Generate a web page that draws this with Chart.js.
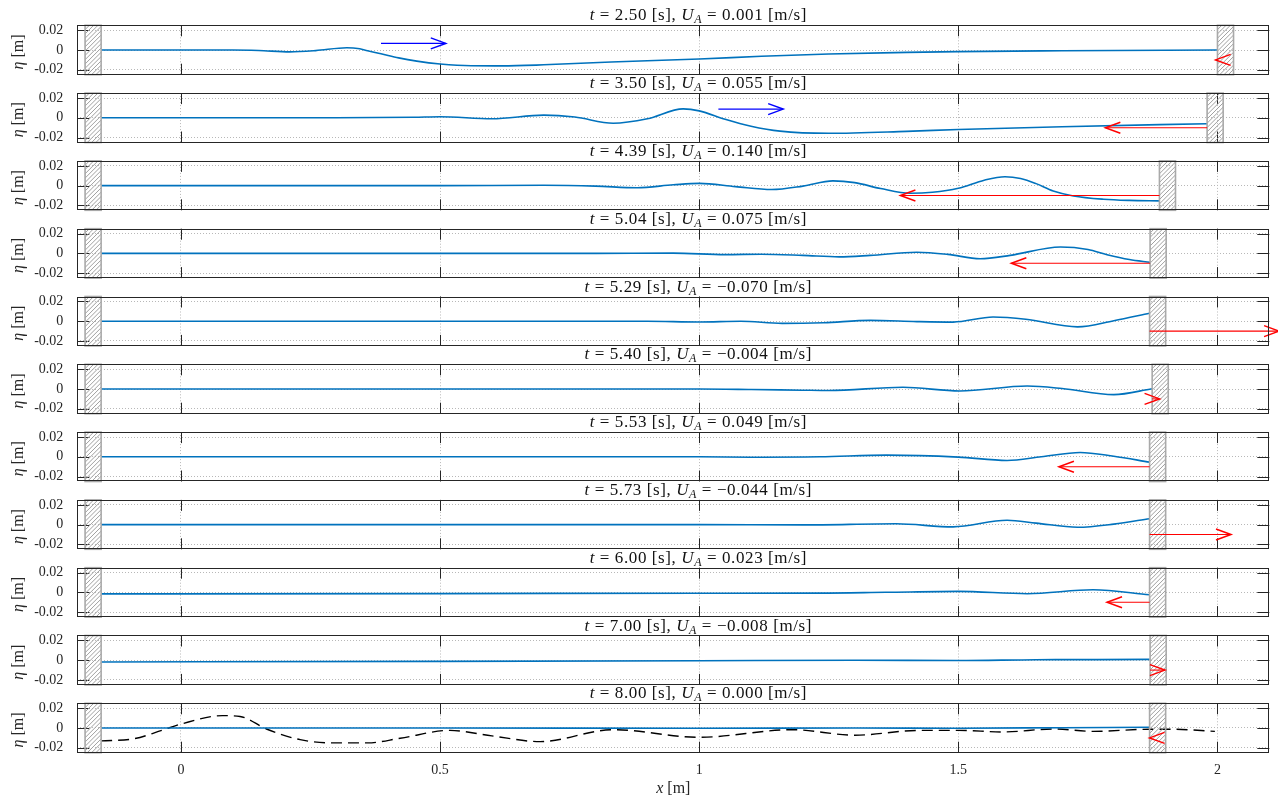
<!DOCTYPE html>
<html>
<head>
<meta charset="utf-8">
<script src="https://cdn.jsdelivr.net/npm/chart.js@4.4.1/dist/chart.umd.min.js"></script>
<style>
  html, body { margin: 0; padding: 0; background: #fff; }
  #fig { position: relative; width: 1278px; height: 799px; overflow: hidden; background: #fff; }
  #fig canvas { position: absolute; left: 0; }
</style>
</head>
<body>
<div id="fig"></div>
<script>
// Snapshot times and paddle velocity of each frame
const TIMES = [2.50, 3.50, 4.39, 5.04, 5.29, 5.40, 5.53, 5.73, 6.00, 7.00, 8.00];
const U_A   = [0.001, 0.055, 0.140, 0.075, -0.070, -0.004, 0.049, -0.044, 0.023, -0.008, 0.000];

// Position of the moving paddle (water-side face) in each frame, and the fixed wall
const WALL_X = [2.000, 1.980, 1.888, 1.870, 1.869, 1.874, 1.869, 1.869, 1.869, 1.870, 1.869];
const FIXED_WALL_X = -0.154;
const WALL_THICKNESS = 0.031;

// Axis ticks
const X_TICKS = [0, 0.5, 1, 1.5, 2];
const Y_TICKS = [-0.02, 0, 0.02];

// Free-surface elevation eta(x) for each snapshot
const X_250   = [-0.154, 0.0, 0.1, 0.15, 0.21, 0.26, 0.32, 0.345, 0.36, 0.386, 0.42, 0.455, 0.5, 0.56, 0.62, 0.7, 0.83, 1.0, 1.12, 1.25, 1.4, 1.5, 1.7, 1.9, 2.0];
const ETA_250 = [0, 0, 0, -0.0005, -0.0019, -0.0006, 0.0023, 0.0012, -0.0008, -0.0038, -0.008, -0.0113, -0.0142, -0.016, -0.0161, -0.015, -0.0121, -0.0091, -0.0064, -0.004, -0.0024, -0.0016, -0.0008, -0.0002, 0];

const X_350   = [-0.154, 0.3, 0.45, 0.5, 0.6, 0.7, 0.76, 0.834, 0.9, 0.969, 1.0, 1.05, 1.1, 1.156, 1.25, 1.4, 1.5, 1.7, 1.98];
const ETA_350 = [0, 0, 0.0005, 0.001, -0.001, 0.0027, 0.0008, -0.0055, -0.001, 0.009, 0.007, -0.0015, -0.0085, -0.0135, -0.0157, -0.0137, -0.0118, -0.009, -0.006];

const X_439   = [-0.154, 0.5, 0.7, 0.8, 0.88, 0.95, 1.0, 1.07, 1.14, 1.2, 1.258, 1.3, 1.35, 1.407, 1.45, 1.5, 1.55, 1.59, 1.62, 1.65, 1.683, 1.722, 1.78, 1.83, 1.888];
const ETA_439 = [0, 0, 0.0003, -0.0005, -0.0022, 0.0008, 0.0023, -0.001, -0.004, -0.0005, 0.0048, 0.003, -0.003, -0.0078, -0.0068, -0.0027, 0.0055, 0.009, 0.0072, 0.002, -0.0055, -0.0105, -0.0138, -0.015, -0.0155];

const X_504   = [-0.154, 0.8, 0.95, 1.05, 1.12, 1.2, 1.27, 1.33, 1.42, 1.48, 1.542, 1.6, 1.697, 1.75, 1.787, 1.83, 1.87];
const ETA_504 = [0, 0, 0.0003, -0.0012, -0.0008, -0.002, -0.0035, -0.002, 0.0012, -0.001, -0.0054, -0.002, 0.0065, 0.004, -0.0013, -0.0062, -0.009];

const X_529   = [-0.154, 0.9, 1.0, 1.08, 1.16, 1.24, 1.33, 1.42, 1.49, 1.567, 1.63, 1.73, 1.8, 1.869];
const ETA_529 = [0, 0, -0.0008, 0, -0.0022, -0.0015, 0.0008, -0.0004, -0.0009, 0.0042, 0.002, -0.0057, 0.0005, 0.008];

const X_540   = [-0.154, 1.0, 1.1, 1.2, 1.25, 1.393, 1.503, 1.633, 1.7, 1.8, 1.874];
const ETA_540 = [0, 0, -0.0005, -0.0012, -0.0015, 0.0017, -0.002, 0.003, 0.0005, -0.0057, 0.0003];

const X_553   = [-0.154, 1.0, 1.1, 1.233, 1.362, 1.5, 1.594, 1.66, 1.735, 1.8, 1.869];
const ETA_553 = [0, 0, -0.0004, 0, 0.0017, -0.0003, -0.0037, 0, 0.0044, 0.0005, -0.0054];

const X_573   = [-0.154, 1.0, 1.2, 1.38, 1.49, 1.594, 1.65, 1.73, 1.8, 1.869];
const ETA_573 = [0, 0, -0.0003, 0.0008, -0.0023, 0.0044, 0.0015, -0.0027, 0.0005, 0.006];

const X_600   = [-0.154, 0.5, 1.0, 1.233, 1.36, 1.5, 1.633, 1.76, 1.869];
const ETA_600 = [-0.0015, -0.0012, -0.0008, -0.0007, 0.0001, 0.001, -0.0013, 0.0027, -0.0024];

const X_700   = [-0.154, 0.5, 1.0, 1.3, 1.5, 1.65, 1.75, 1.869];
const ETA_700 = [-0.0018, -0.0012, -0.0005, 0, -0.0003, 0.0005, 0.0006, 0.0008];

const X_800   = [-0.154, 0.5, 1.0, 1.3, 1.5, 1.7, 1.869];
const ETA_800 = [0, 0, -0.0003, 0, -0.0002, 0.0003, 0.0007];

// Reference surface shown dashed in the last frame
const X_REF   = [-0.154, -0.092, -0.037, 0.0, 0.08, 0.114, 0.165, 0.23, 0.29, 0.36, 0.423, 0.519, 0.6, 0.693, 0.834, 1.0, 1.18, 1.3, 1.426, 1.5, 1.587, 1.683, 1.76, 1.869, 1.915, 1.995];
const ETA_REF = [-0.013, -0.011, -0.0024, 0.004, 0.0125, 0.0117, -0.001, -0.0118, -0.0151, -0.0151, -0.0104, -0.0024, -0.008, -0.0138, -0.0017, -0.0094, -0.0017, -0.0073, -0.0024, -0.0024, -0.004, -0.001, -0.0034, -0.0013, -0.0013, -0.0034];

// Wave-direction arrows (blue) in the first two frames
const DIR_FRAME = [0, 1];
const DIR_X0 = [0.386, 1.037];
const DIR_X1 = [0.511, 1.162];
const DIR_Y  = [0.0067, 0.0088];

const SURF_X   = [X_250, X_350, X_439, X_504, X_529, X_540, X_553, X_573, X_600, X_700, X_800];
const SURF_ETA = [ETA_250, ETA_350, ETA_439, ETA_504, ETA_529, ETA_540, ETA_553, ETA_573, ETA_600, ETA_700, ETA_800];

// Layout and style constants
const VEL_ARROW_Y = -0.01;     // height at which the paddle velocity arrow is drawn
const VEL_ARROW_SCALE = 3.57;  // metres of arrow per m/s
const AX_LEFT = 77.3, AX_RIGHT = 1269.3, AX_TOP0 = 25.3, AX_STEP = 67.8, AX_H = 49.4;
const X_AXIS_H = 40, CANVAS_H = 121;
const FONT = '"Liberation Serif", "Times New Roman", serif';
const INK = '#262626';

function toPoints(xs, ys) { return xs.map((x, k) => ({ x: x, y: ys[k] })); }

function fmtU(u) {
  const s = Math.abs(u).toFixed(3);
  return (u < 0 ? '\u2212' : '') + s;
}

function drawRich(ctx, tokens, cx, y) {
  let total = 0;
  tokens.forEach(tk => { ctx.font = tk.font; tk.w = ctx.measureText(tk.text).width + (tk.gap || 0); total += tk.w; });
  let x = cx - total / 2;
  ctx.textAlign = 'left';
  ctx.textBaseline = 'alphabetic';
  tokens.forEach(tk => { ctx.font = tk.font; ctx.fillText(tk.text, x, y + (tk.dy || 0)); x += tk.w; });
}

function drawWall(ctx, x0, x1, y0, y1) {
  ctx.save();
  ctx.beginPath();
  ctx.rect(x0, y0, x1 - x0, y1 - y0);
  ctx.clip();
  ctx.strokeStyle = '#a0a0a0';
  ctx.lineWidth = 1;
  ctx.beginPath();
  const h = y1 - y0;
  for (let k = -h; k < (x1 - x0) + h; k += 4.3) {
    ctx.moveTo(x0 + k, y1);
    ctx.lineTo(x0 + k + h, y0);
  }
  ctx.stroke();
  ctx.restore();
  ctx.save();
  ctx.strokeStyle = '#a9a9a9';
  ctx.lineWidth = 1.6;
  ctx.strokeRect(x0, y0, x1 - x0, y1 - y0);
  ctx.restore();
}

function drawArrow(ctx, xt, xh, y, color) {
  const dir = xh > xt ? 1 : -1;
  ctx.save();
  ctx.strokeStyle = color;
  ctx.lineWidth = 1.1;
  ctx.beginPath();
  ctx.moveTo(xt, y);
  ctx.lineTo(xh, y);
  ctx.stroke();
  ctx.lineWidth = 1.5;
  ctx.beginPath();
  ctx.moveTo(xh - dir * 15, y - 5.5);
  ctx.lineTo(xh, y);
  ctx.lineTo(xh - dir * 15, y + 5.5);
  ctx.stroke();
  ctx.restore();
}

const frameDecor = {
  id: 'frameDecor',
  beforeDatasetsDraw(chart) {
    // inward tick marks on all four sides
    const { ctx, chartArea: a, scales: { x, y } } = chart;
    ctx.save();
    ctx.strokeStyle = INK;
    ctx.lineWidth = 1;
    ctx.beginPath();
    X_TICKS.forEach(v => {
      const px = Math.round(x.getPixelForValue(v)) + 0.5;
      ctx.moveTo(px, a.top); ctx.lineTo(px, a.top + 11);
      ctx.moveTo(px, a.bottom); ctx.lineTo(px, a.bottom - 11);
    });
    Y_TICKS.forEach(v => {
      const py = Math.round(y.getPixelForValue(v)) + 0.5;
      ctx.moveTo(a.left, py); ctx.lineTo(a.left + 12, py);
      ctx.moveTo(a.right, py); ctx.lineTo(a.right - 12, py);
    });
    ctx.stroke();
    ctx.restore();
  },
  afterDatasetsDraw(chart, args, opts) {
    const { ctx, chartArea: a, scales: { x, y } } = chart;
    const i = opts.frame;
    drawWall(ctx, x.getPixelForValue(FIXED_WALL_X - WALL_THICKNESS), x.getPixelForValue(FIXED_WALL_X), a.top, a.bottom);
    drawWall(ctx, x.getPixelForValue(WALL_X[i]), x.getPixelForValue(WALL_X[i] + WALL_THICKNESS), a.top, a.bottom);
    // paddle velocity arrow
    const tail = WALL_X[i];
    const tip = tail - VEL_ARROW_SCALE * U_A[i];
    drawArrow(ctx, x.getPixelForValue(tail), x.getPixelForValue(tip), y.getPixelForValue(VEL_ARROW_Y), '#ff0000');
    // wave direction arrows
    DIR_FRAME.forEach((f, k) => {
      if (f === i) drawArrow(ctx, x.getPixelForValue(DIR_X0[k]), x.getPixelForValue(DIR_X1[k]), y.getPixelForValue(DIR_Y[k]), '#0000ff');
    });
  },
  afterDraw(chart, args, opts) {
    const { ctx, chartArea: a } = chart;
    const i = opts.frame;
    ctx.save();
    ctx.strokeStyle = INK;
    ctx.lineWidth = 1;
    const l = Math.round(a.left) + 0.5, r = Math.round(a.right) - 0.5;
    const t = Math.round(a.top) + 0.5, b = Math.round(a.bottom) - 0.5;
    ctx.strokeRect(l, t, r - l, b - t);
    // title
    ctx.fillStyle = '#111';
    try { ctx.letterSpacing = '0.6px'; } catch (e) {}
    const reg = '17px ' + FONT, ita = 'italic 17px ' + FONT, sub = 'italic 12px ' + FONT;
    drawRich(ctx, [
      { text: 't', font: ita },
      { text: ' = ' + TIMES[i].toFixed(2) + ' [s], ', font: reg },
      { text: 'U', font: ita },
      { text: 'A', font: sub, dy: 3 },
      { text: ' = ' + fmtU(U_A[i]) + ' [m/s]', font: reg }
    ], (a.left + a.right) / 2 + 25, a.top - 5);
    try { ctx.letterSpacing = '0px'; } catch (e) {}
    // y-axis label
    ctx.save();
    ctx.translate(18, (a.top + a.bottom) / 2 + 2);
    ctx.rotate(-Math.PI / 2);
    ctx.fillStyle = INK;
    drawRich(ctx, [
      { text: '\u03b7', font: 'italic 16px ' + FONT },
      { text: ' [m]', font: '16px ' + FONT }
    ], 0, 5);
    ctx.restore();
    // x-axis label on the bottom frame
    if (opts.last) {
      ctx.fillStyle = INK;
      drawRich(ctx, [
        { text: 'x', font: 'italic 16px ' + FONT },
        { text: ' [m]', font: '16px ' + FONT }
      ], (a.left + a.right) / 2, a.bottom + 40);
    }
    ctx.restore();
  }
};

const fig = document.getElementById('fig');
for (let i = 0; i < TIMES.length; i++) {
  const last = i === TIMES.length - 1;
  const axTop = AX_TOP0 + i * AX_STEP;
  const cTop = Math.floor(axTop) - 25;
  const padTop = axTop - cTop;
  const padBottom = CANVAS_H - padTop - AX_H - X_AXIS_H;

  const cv = document.createElement('canvas');
  cv.width = 1278; cv.height = CANVAS_H;
  cv.style.top = cTop + 'px';
  cv.style.width = '1278px'; cv.style.height = CANVAS_H + 'px';
  fig.appendChild(cv);

  const datasets = [{
    data: toPoints(SURF_X[i], SURF_ETA[i]),
    borderColor: '#0072BD', borderWidth: 1.6, pointRadius: 0,
    cubicInterpolationMode: 'monotone', fill: false
  }];
  if (last) {
    datasets.push({
      data: toPoints(X_REF, ETA_REF),
      borderColor: '#000000', borderWidth: 1.4, borderDash: [11, 6], pointRadius: 0,
      cubicInterpolationMode: 'monotone', fill: false
    });
  }

  new Chart(cv, {
    type: 'line',
    data: { datasets: datasets },
    plugins: [frameDecor],
    options: {
      responsive: false,
      animation: false,
      devicePixelRatio: 1,
      events: [],
      layout: { padding: { top: padTop, bottom: padBottom, left: 0, right: 1278 - AX_RIGHT } },
      plugins: {
        legend: { display: false },
        tooltip: { enabled: false },
        frameDecor: { frame: i, last: last }
      },
      scales: {
        x: {
          type: 'linear', min: -0.2, max: 2.1,
          afterBuildTicks: s => { s.ticks = X_TICKS.map(v => ({ value: v })); },
          afterFit: s => { s.height = X_AXIS_H; },
          grid: { color: '#b8b8b8', lineWidth: 1, drawTicks: false },
          border: { display: false, dash: [1, 2] },
          ticks: {
            padding: 9, maxRotation: 0, autoSkip: false,
            color: last ? INK : 'rgba(0,0,0,0)', font: { family: FONT, size: 14 },
            callback: v => String(v)
          }
        },
        y: {
          type: 'linear', min: -0.025, max: 0.025,
          afterBuildTicks: s => { s.ticks = Y_TICKS.map(v => ({ value: v })); },
          afterFit: s => { s.width = AX_LEFT; },
          grid: { color: '#b8b8b8', lineWidth: 1, drawTicks: false },
          border: { display: false, dash: [1, 2] },
          ticks: {
            padding: 14, color: INK, font: { family: FONT, size: 14 },
            callback: v => (v === 0 ? '0' : v.toFixed(2))
          }
        }
      }
    }
  });
}
</script>
</body>
</html>
